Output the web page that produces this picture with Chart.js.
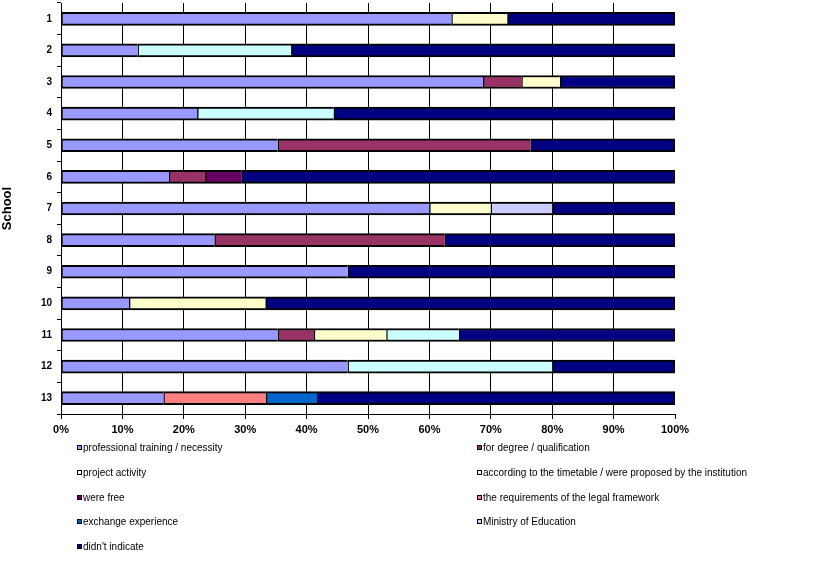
<!DOCTYPE html>
<html>
<head>
<meta charset="utf-8">
<script src="https://cdn.jsdelivr.net/npm/chart.js@4.4.1/dist/chart.umd.min.js"></script>
<style>
html,body{margin:0;padding:0;background:#fff;}
#wrap{position:relative;width:817px;height:563px;overflow:hidden;}
#c{position:absolute;left:0;top:0;}
.li{position:absolute;font:10px "Liberation Sans",Arial,sans-serif;color:#000;white-space:nowrap;line-height:12px;height:12px;}
.sw{position:absolute;left:0;top:3px;width:3px;height:3px;border:1px solid #000;}
.tx{position:absolute;left:6px;top:0;}
</style>
</head>
<body>
<div id="wrap">
<canvas id="c" width="817" height="563"></canvas>
<div id="legend"></div>
</div>
<script>
const schools = ['1','2','3','4','5','6','7','8','9','10','11','12','13'];
const xTickValues = [0,10,20,30,40,50,60,70,80,90,100];

const seriesNames = [
  'professional training / necessity',
  'for degree / qualification',
  'project activity',
  'according to the timetable / were proposed by the institution',
  'were free',
  'the requirements of the legal framework',
  'exchange experience',
  'Ministry of Education',
  "didn't indicate"
];
const seriesColors = ['#9999FF','#993366','#FFFFCC','#CCFFFF','#660066','#FF8080','#0066CC','#CCCCFF','#000080'];

const profTraining      = [63.6, 12.5, 68.75, 22.2, 35.3, 17.6, 60, 25, 46.7, 11.1, 35.3, 46.7, 16.7];
const forDegree         = [null, null, 6.25, null, 41.2, 5.9, null, 37.5, null, null, 5.9, null, null];
const projectActivity   = [9.1, null, 6.25, null, null, null, 10, null, null, 22.2, 11.8, null, null];
const timetable         = [null, 25, null, 22.2, null, null, null, null, null, null, 11.8, 33.3, null];
const wereFree          = [null, null, null, null, null, 5.9, null, null, null, null, null, null, null];
const legalFramework    = [null, null, null, null, null, null, null, null, null, null, null, null, 16.7];
const exchangeExp       = [null, null, null, null, null, null, null, null, null, null, null, null, 8.3];
const ministry          = [null, null, null, null, null, null, 10, null, null, null, null, null, null];
const didntIndicate     = [27.3, 62.5, 18.75, 55.6, 23.5, 70.6, 20, 37.5, 53.3, 66.7, 35.3, 20, 58.3];

const seriesValues = [profTraining, forDegree, projectActivity, timetable, wereFree, legalFramework, exchangeExp, ministry, didntIndicate];

const datasets = seriesValues.map((vals, i) => ({
  label: seriesNames[i],
  data: vals,
  backgroundColor: seriesColors[i],
  borderColor: '#000',
  borderWidth: {top: 2, bottom: 2, left: 1.5, right: i === seriesValues.length - 1 ? 2 : 0},
  borderSkipped: false,
  barThickness: 13
}));

function zeroPad(s) { s.paddingTop = 0; s.paddingBottom = 0; s.paddingLeft = 0; s.paddingRight = 0; }

new Chart(document.getElementById('c'), {
  type: 'bar',
  data: {labels: schools, datasets},
  options: {
    indexAxis: 'y',
    responsive: false,
    animation: false,
    devicePixelRatio: 1,
    layout: {padding: {left: 0, top: 3, right: 142, bottom: 119}},
    plugins: {legend: {display: false}, tooltip: {enabled: false}},
    scales: {
      x: {
        stacked: true,
        min: 0, max: 100,
        afterBuildTicks: s => { s.ticks = xTickValues.map(v => ({value: v})); },
        afterFit: s => { s.height = 30; zeroPad(s); },
        ticks: {
          callback: v => v + '%',
          color: '#000',
          padding: 4,
          maxRotation: 0,
          font: {family: '"Liberation Sans", Arial, sans-serif', size: 11, weight: 'bold'}
        },
        grid: {
          color: ctx => (ctx.tick && (ctx.tick.value === 100 || ctx.tick.value === 0)) ? 'rgba(0,0,0,0)' : '#000',
          tickColor: '#000',
          tickLength: 5,
          lineWidth: 1
        },
        border: {color: '#000', width: 1}
      },
      y: {
        stacked: true,
        afterFit: s => { s.width = 61; zeroPad(s); },
        title: {
          display: true,
          text: 'School',
          color: '#000',
          padding: {top: 0, bottom: 0},
          font: {family: '"Liberation Sans", Arial, sans-serif', size: 13, weight: 'bold'}
        },
        ticks: {
          color: '#000',
          padding: 5,
          font: {family: '"Liberation Sans", Arial, sans-serif', size: 10, weight: 'bold'}
        },
        grid: {
          offset: true,
          drawOnChartArea: false,
          tickColor: '#000',
          tickLength: 4,
          lineWidth: 1
        },
        border: {color: '#000', width: 1}
      }
    }
  }
});

// HTML legend (two columns, row-major)
const legend = document.getElementById('legend');
const colX = [77, 477];
const rowY = [442, 467, 492, 516, 541];
seriesNames.forEach((name, i) => {
  const d = document.createElement('div');
  d.className = 'li';
  d.style.left = colX[i % 2] + 'px';
  d.style.top = rowY[Math.floor(i / 2)] + 'px';
  const sw = document.createElement('span');
  sw.className = 'sw';
  sw.style.background = seriesColors[i];
  const tx = document.createElement('span');
  tx.className = 'tx';
  tx.textContent = name;
  d.appendChild(sw); d.appendChild(tx);
  legend.appendChild(d);
});
</script>
</body>
</html>
